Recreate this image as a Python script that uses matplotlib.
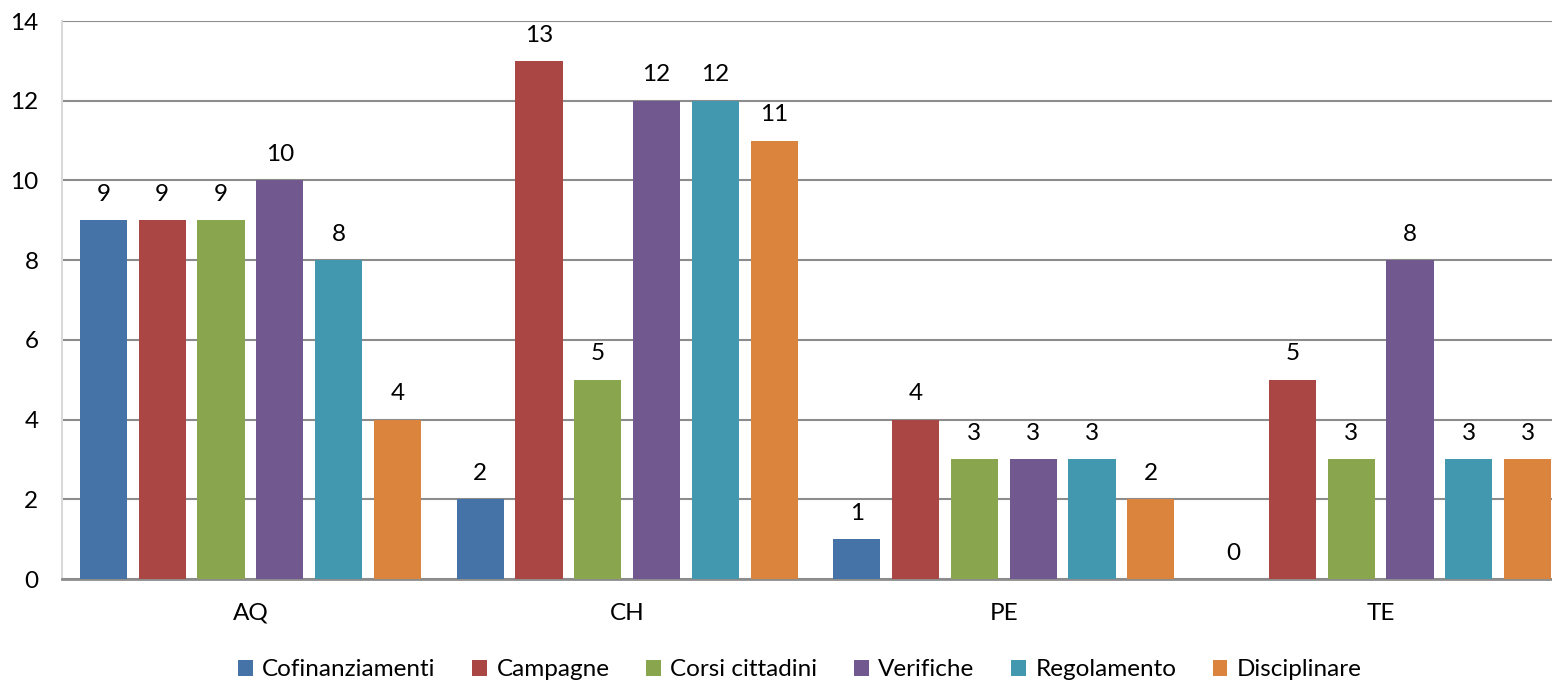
import matplotlib.pyplot as plt
import numpy as np

plt.rcParams['font.family'] = ['Lato', 'DejaVu Sans']

province = ['AQ', 'CH', 'PE', 'TE']
serie = ['Cofinanziamenti', 'Campagne', 'Corsi cittadini', 'Verifiche', 'Regolamento', 'Disciplinare']
valori = {
    'Cofinanziamenti': [9, 2, 1, 0],
    'Campagne': [9, 13, 4, 5],
    'Corsi cittadini': [9, 5, 3, 3],
    'Verifiche': [10, 12, 3, 8],
    'Regolamento': [8, 12, 3, 3],
    'Disciplinare': [4, 11, 2, 3],
}
colori = ['#4572A7', '#AA4643', '#89A54E', '#71588F', '#4198AF', '#DB843D']

W, H = 1552, 684
fig = plt.figure(figsize=(W / 100, H / 100), dpi=100)
# plot area: left 62px, right runs past the picture edge (cropped like the original)
ax = fig.add_axes([62 / W, 1 - 579 / H, (1569 - 62) / W, (579 - 21) / H])

x = np.arange(len(province))
passo = 0.156
larg = 0.125
fs = 17.5
for i, s in enumerate(serie):
    pos = x + (i - 2.5) * passo
    bars = ax.bar(pos, valori[s], width=larg, color=colori[i], label=s, zorder=3)
    for b, v in zip(bars, valori[s]):
        ax.annotate(str(v), (b.get_x() + b.get_width() / 2, v), xytext=(0, 11),
                    textcoords='offset points', ha='center', va='bottom', fontsize=fs)

ax.set_xlim(-0.5, 3.5)
ax.set_ylim(0, 14)
ax.set_yticks(range(0, 15, 2))
ax.yaxis.grid(True, color='#8c8c8c', linewidth=1.5, zorder=0)
ax.set_xticks(x)
ax.set_xticklabels(province)
ax.tick_params(axis='both', length=0, labelsize=fs)
ax.tick_params(axis='x', pad=17)
ax.tick_params(axis='y', pad=17)
for lab in ax.get_yticklabels():
    lab.set_horizontalalignment('right')

for sp in ['top', 'right']:
    ax.spines[sp].set_visible(False)
ax.spines['left'].set_color('#d9d9d9')
ax.spines['left'].set_linewidth(1.5)
ax.spines['bottom'].set_color('#8c8c8c')
ax.spines['bottom'].set_linewidth(2)
ax.axhline(14, color='#d9d9d9', linewidth=1.5, zorder=1)

fig.legend(*ax.get_legend_handles_labels(), loc='center', bbox_to_anchor=(800 / W, 1 - 670 / H),
           ncol=6, frameon=False, fontsize=fs, handlelength=0.6, handleheight=0.6,
           handletextpad=0.4, columnspacing=1.5)

fig.savefig('out.png', dpi=100)
